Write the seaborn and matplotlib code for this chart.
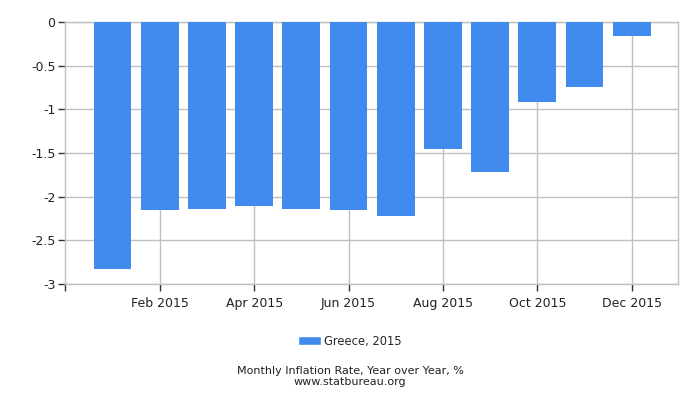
import matplotlib
matplotlib.use("Agg")
import matplotlib.pyplot as plt
import seaborn as sns
import pandas as pd
from matplotlib.patches import Patch

# data
months = ["Jan 2015", "Feb 2015", "Mar 2015", "Apr 2015", "May 2015", "Jun 2015",
          "Jul 2015", "Aug 2015", "Sep 2015", "Oct 2015", "Nov 2015", "Dec 2015"]
inflation = [-2.83, -2.15, -2.14, -2.11, -2.14, -2.15,
             -2.22, -1.45, -1.72, -0.91, -0.74, -0.16]
yticks = [0, -0.5, -1, -1.5, -2, -2.5, -3]
ytick_labels = ["0", "-0.5", "-1", "-1.5", "-2", "-2.5", "-3"]
series_label = "Greece, 2015"
bar_color = "#418bee"
grid_color = "#c0c0c0"

df = pd.DataFrame({"month": months, "value": inflation})

sns.set_style("white")
plt.rcParams["font.family"] = ["DejaVu Sans"]

fig = plt.figure(figsize=(7, 4), dpi=100)
ax = fig.add_axes([0.0933, 0.291, 0.8753, 0.653])

sns.barplot(data=df, x="month", y="value", order=months, color=bar_color,
            saturation=1, width=0.8, linewidth=0, ax=ax, zorder=3)

ax.set_xlim(-1, 11.98)
ax.set_ylim(-3, 0)

# x ticks: blank tick at left edge, labels every second month
xpos = [-1] + list(range(1, 12, 2))
xlab = [""] + [months[i] for i in range(1, 12, 2)]
ax.set_xticks(xpos)
ax.set_xticklabels(xlab, fontsize=9, color="#222222")
ax.set_yticks(yticks)
ax.set_yticklabels(ytick_labels, fontsize=9, color="#222222")

for p in range(1, 12, 2):
    ax.axvline(p, color=grid_color, lw=1, zorder=1)
for v in yticks:
    ax.axhline(v, color=grid_color, lw=1, zorder=1)

ax.tick_params(axis="both", direction="out", length=5, width=1, color="#333333",
               pad=2, bottom=True, left=True)
ax.tick_params(axis="x", pad=5)
for s in ax.spines.values():
    s.set_visible(True)
    s.set_color(grid_color)
    s.set_linewidth(1)
ax.set_xlabel("")
ax.set_ylabel("")

fig.legend(handles=[Patch(facecolor=bar_color, label=series_label)],
           loc="center", bbox_to_anchor=(0.5, 0.147), frameon=False,
           fontsize=8.3, handlelength=2.0, handleheight=0.8, handletextpad=0.3)

fig.text(0.5, 0.0725, "Monthly Inflation Rate, Year over Year, %", ha="center",
         va="center", fontsize=8, color="#222222")
fig.text(0.5, 0.0455, "www.statbureau.org", ha="center", va="center",
         fontsize=8, color="#222222")

fig.savefig("out.png", dpi=100)
